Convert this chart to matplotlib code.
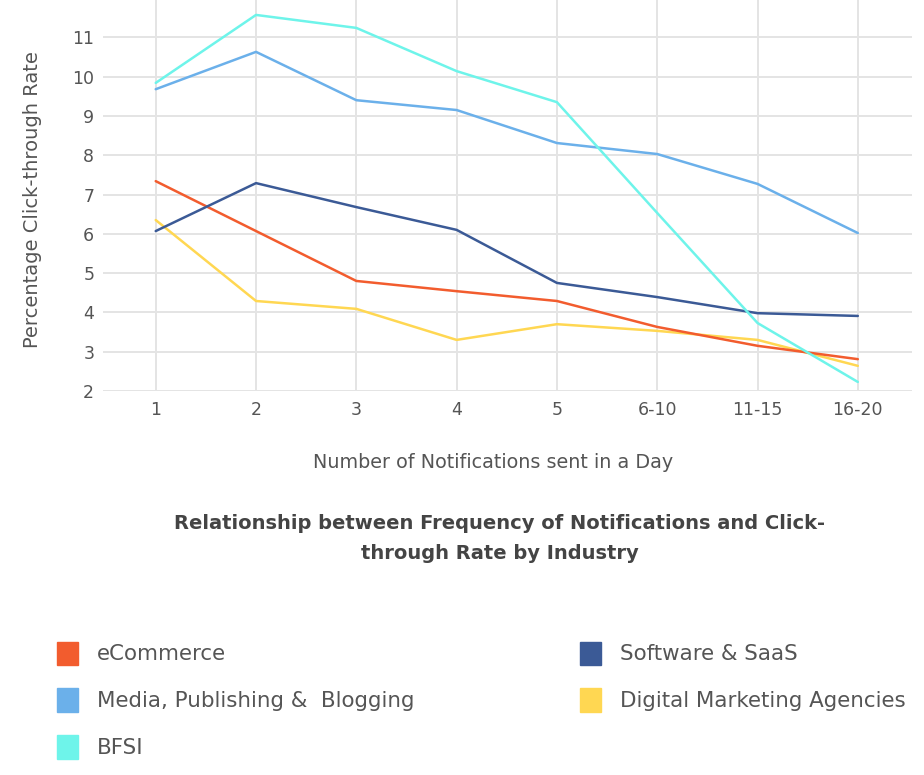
import matplotlib
matplotlib.use('Agg')
from matplotlib import pyplot as plt
from matplotlib.patches import Patch

categories = ['1', '2', '3', '4', '5', '6-10', '11-15', '16-20']

ecommerce = [7.34, 6.07, 4.80, 4.54, 4.29, 3.63, 3.15, 2.81]
media = [9.68, 10.63, 9.40, 9.15, 8.31, 8.03, 7.27, 6.02]
bfsi = [9.84, 11.57, 11.24, 10.14, 9.35, 6.53, 3.73, 2.23]
software = [6.07, 7.29, 6.68, 6.10, 4.75, 4.39, 3.98, 3.91]
digital = [6.35, 4.29, 4.09, 3.30, 3.70, 3.53, 3.30, 2.64]

names = ['eCommerce', 'Media, Publishing &  Blogging', 'BFSI',
         'Software & SaaS', 'Digital Marketing Agencies']
colors = ['#F25C2E', '#6BB0EA', '#6EF4EA', '#3B5A96', '#FFD752']
yticks = [2, 3, 4, 5, 6, 7, 8, 9, 10, 11]

plt.rcParams['font.family'] = ['DejaVu Sans']
txt = '#555555'

fig = plt.figure(figsize=(9.24, 7.75), dpi=100)
ax = fig.add_axes([0.111, 0.4955, 0.876, 0.5045])

# draw order: yellow and orange under the blues
series = [digital, ecommerce, software, media, bfsi]
scol = [colors[4], colors[0], colors[3], colors[1], colors[2]]
for vals, c in zip(series, scol):
    ax.plot(categories, vals, color=c, lw=1.8, solid_capstyle='round')

ax.set_xlim(-0.53, 7.54)
ax.set_ylim(2, 11.95)
ax.set_yticks(yticks)
ax.set_yticklabels([str(v) for v in yticks])
ax.grid(True, color='#e4e4e4', lw=1.4)
ax.set_axisbelow(True)
for s in ax.spines.values():
    s.set_visible(False)
ax.tick_params(length=0, colors=txt, labelsize=12.5, pad=6)
ax.tick_params(axis='x', pad=7)

ax.set_ylabel('Percentage Click-through Rate', color=txt, fontsize=14)
ax.yaxis.set_label_coords(-0.0754, 0.49)

fig.text(0.534, 0.4026, 'Number of Notifications sent in a Day', ha='center', va='center',
         color=txt, fontsize=13.8)
fig.text(0.541, 0.305, 'Relationship between Frequency of Notifications and Click-\nthrough Rate by Industry',
         ha='center', va='center', color='#444444', fontsize=14, fontweight='bold',
         linespacing=1.72)

handles = [Patch(color=c) for c in colors]
fig.legend(handles, names, loc='upper left', bbox_to_anchor=(0.0498, 0.186),
           ncol=2, frameon=False, fontsize=15.4, labelcolor=txt, borderpad=0,
           handlelength=1.0, handleheight=1.3, handletextpad=0.9,
           columnspacing=7.7, labelspacing=1.1)

fig.savefig('out.png', dpi=100, facecolor='white')
